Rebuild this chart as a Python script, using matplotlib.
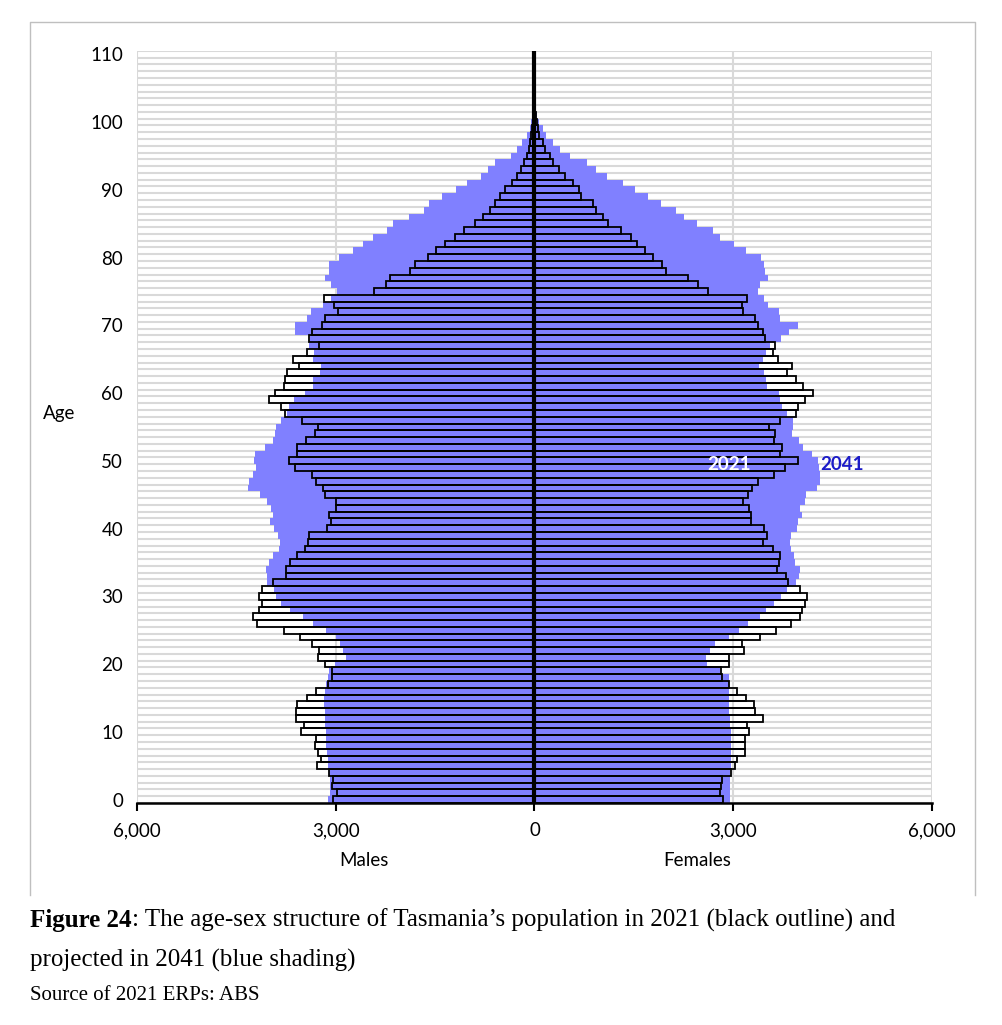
import matplotlib
matplotlib.use('Agg')
import matplotlib.pyplot as plt
from matplotlib.lines import Line2D

# ages 0..102 (single years)
ages = list(range(0, 103))

# 2021 ERP, black outline
males_2021 = [3040, 2980, 3055, 3040, 3100, 3290, 3230, 3275, 3315, 3300,
              3520, 3480, 3600, 3595, 3585, 3430, 3300, 3115, 3060, 3055,
              3165, 3275, 3255, 3355, 3545, 3785, 4195, 4245, 4160, 4110,
              4160, 4110, 3945, 3755, 3745, 3695, 3585, 3465, 3415, 3400,
              3130, 3065, 3100, 2990, 2990, 3165, 3190, 3305, 3355, 3610,
              3710, 3585, 3585, 3450, 3315, 3270, 3510, 3770, 3820, 4010,
              3920, 3785, 3760, 3730, 3560, 3640, 3430, 3255, 3400, 3355,
              3205, 3165, 2965, 3030, 3175, 2420, 2245, 2175, 1885, 1810,
              1610, 1490, 1355, 1205, 1065, 905, 770, 670, 595, 520,
              440, 340, 265, 210, 160, 115, 90, 75, 50, 35,
              25, 10, 5]
females_2021 = [2840, 2805, 2815, 2830, 2970, 3030, 3055, 3180, 3180, 3170,
                3245, 3205, 3445, 3335, 3320, 3190, 3055, 2930, 2830, 2820,
                2930, 2930, 3165, 3130, 3410, 3650, 3875, 4015, 4040, 4090,
                4115, 4005, 3830, 3790, 3660, 3685, 3710, 3595, 3450, 3510,
                3470, 3275, 3270, 3240, 3145, 3220, 3285, 3370, 3610, 3780,
                3975, 3710, 3735, 3620, 3635, 3535, 3700, 3950, 3975, 4090,
                4205, 4055, 3950, 3815, 3890, 3675, 3595, 3635, 3485, 3450,
                3370, 3335, 3145, 3130, 3205, 2615, 2475, 2310, 1980, 1920,
                1785, 1665, 1550, 1450, 1310, 1115, 1030, 930, 880, 705,
                670, 575, 455, 365, 285, 235, 160, 125, 75, 60,
                40, 20, 8]

# 2041 projection, blue shading
males_2041 = [3115, 3090, 3090, 3090, 3105, 3115, 3115, 3130, 3140, 3140,
              3140, 3155, 3165, 3165, 3175, 3175, 3165, 3140, 3115, 3100,
              3015, 2850, 2890, 2940, 2990, 3140, 3350, 3500, 3695, 3820,
              3895, 3935, 4035, 4045, 4060, 4005, 3945, 3860, 3845, 3870,
              3935, 3985, 3945, 3970, 4045, 4145, 4320, 4310, 4245, 4205,
              4230, 4220, 4070, 3945, 3920, 3895, 3820, 3730, 3700, 3630,
              3470, 3340, 3340, 3240, 3230, 3340, 3330, 3400, 3390, 3610,
              3620, 3430, 3380, 3200, 3065, 2980, 3065, 3155, 3100, 3100,
              2950, 2740, 2590, 2440, 2230, 2135, 1900, 1670, 1595, 1400,
              1190, 1020, 805, 695, 590, 360, 260, 185, 115, 75,
              50, 25, 10]
females_2041 = [2955, 2945, 2945, 2945, 2955, 2965, 2970, 2970, 2970, 2965,
                2965, 2955, 2955, 2940, 2940, 2930, 2930, 2930, 2930, 2805,
                2600, 2590, 2650, 2725, 2930, 3080, 3230, 3400, 3500, 3620,
                3725, 3815, 3940, 3990, 4005, 3925, 3915, 3875, 3855, 3865,
                3965, 3975, 4040, 4005, 4090, 4105, 4270, 4310, 4305, 4295,
                4285, 4190, 4055, 3990, 3890, 3905, 3905, 3815, 3735, 3710,
                3685, 3510, 3500, 3460, 3385, 3450, 3495, 3560, 3725, 3840,
                3980, 3700, 3685, 3520, 3460, 3370, 3400, 3520, 3485, 3460,
                3420, 3195, 3005, 2800, 2700, 2450, 2260, 2135, 1910, 1720,
                1520, 1340, 1095, 930, 795, 540, 385, 275, 175, 125,
                75, 40, 15]

x_ticks = [-6000, -3000, 0, 3000, 6000]
y_ticks = list(range(0, 111, 10))

# colours
blue_fill = '#8080FF'
grid_color = '#D9D9D9'
label_blue = '#1C1CC8'

plt.rcParams['font.family'] = ['Lato', 'DejaVu Sans']
fsize = 13.5

fig = plt.figure(figsize=(10.03, 10.25), dpi=100)
ax = fig.add_axes([0.1366, 0.2166, 0.7926, 0.7337])

# light grey gridlines between every single-year category
ax.hlines([a - 0.5 for a in range(0, 112)], -6000, 6000, color=grid_color, lw=1.5, zorder=0)
for xv in [-6000, -3000, 3000, 6000]:
    ax.axvline(xv, color=grid_color, lw=1.5, zorder=0)

# 2041 blue shading
ax.barh(ages, [-v for v in males_2041], height=1.0, color=blue_fill, lw=0, zorder=2)
ax.barh(ages, females_2041, height=1.0, color=blue_fill, lw=0, zorder=2)

# 2021 black outline
ax.barh(ages, [-v for v in males_2021], height=1.0, fill=False, edgecolor='black', lw=1.3, zorder=3)
ax.barh(ages, females_2021, height=1.0, fill=False, edgecolor='black', lw=1.3, zorder=3)

# thick centre axis
ax.plot([0, 0], [-0.5, 110.5], color='black', lw=3, zorder=4, solid_capstyle='butt')

ax.set_xlim(-6000, 6000)
ax.set_ylim(-0.5, 110.5)

ax.set_xticks(x_ticks)
ax.set_xticklabels(["{:,}".format(abs(v)) for v in x_ticks], fontsize=fsize)
ax.set_yticks(y_ticks)
ax.set_yticklabels([str(v) for v in y_ticks], fontsize=fsize)
ax.tick_params(axis='x', direction='out', length=6, width=1.5, pad=8)
ax.tick_params(axis='y', length=0, pad=10)

for side in ['top', 'left', 'right']:
    ax.spines[side].set_visible(False)
ax.spines['bottom'].set_linewidth(1.8)
ax.spines['bottom'].set_zorder(5)

# year labels
ax.text(2940, 49.5, '2021', color='white', fontsize=fsize, fontweight='bold', ha='center', va='center', zorder=6)
ax.text(4640, 49.5, '2041', color=label_blue, fontsize=fsize, fontweight='bold', ha='center', va='center', zorder=6)

# axis titles
fig.text(59 / 1003, 1 - 413 / 1025, 'Age', fontsize=fsize, ha='center', va='center')
fig.text(364 / 1003, 1 - 860 / 1025, 'Males', fontsize=fsize, ha='center', va='center')
fig.text(697 / 1003, 1 - 860 / 1025, 'Females', fontsize=fsize, ha='center', va='center')

# chart border (left, top, right)
x0, x1 = 30 / 1003, 975 / 1003
y0, y1 = 1 - 895 / 1025, 1 - 22 / 1025
fig.add_artist(Line2D([x0, x0, x1, x1], [y0, y1, y1, y0], transform=fig.transFigure,
                      color='#BFBFBF', lw=1.0))

# caption
serif = ['Liberation Serif', 'DejaVu Serif']
cap_size = 18
t_bold = fig.text(30 / 1003, 1 - 920 / 1025, 'Figure 24', family=serif, fontsize=cap_size,
                  fontweight='bold', ha='left', va='center')
fig.canvas.draw()
bb = t_bold.get_window_extent(renderer=fig.canvas.get_renderer())
fig.text(bb.x1 / fig.bbox.width, 1 - 920 / 1025,
         ': The age-sex structure of Tasmania\u2019s population in 2021 (black outline) and',
         family=serif, fontsize=cap_size, ha='left', va='center')
fig.text(30 / 1003, 1 - 960 / 1025, 'projected in 2041 (blue shading)', family=serif,
         fontsize=cap_size, ha='left', va='center')
fig.text(30 / 1003, 1 - 996 / 1025, 'Source of 2021 ERPs: ABS', family=serif,
         fontsize=15, ha='left', va='center')

fig.savefig('out.png', dpi=100)
